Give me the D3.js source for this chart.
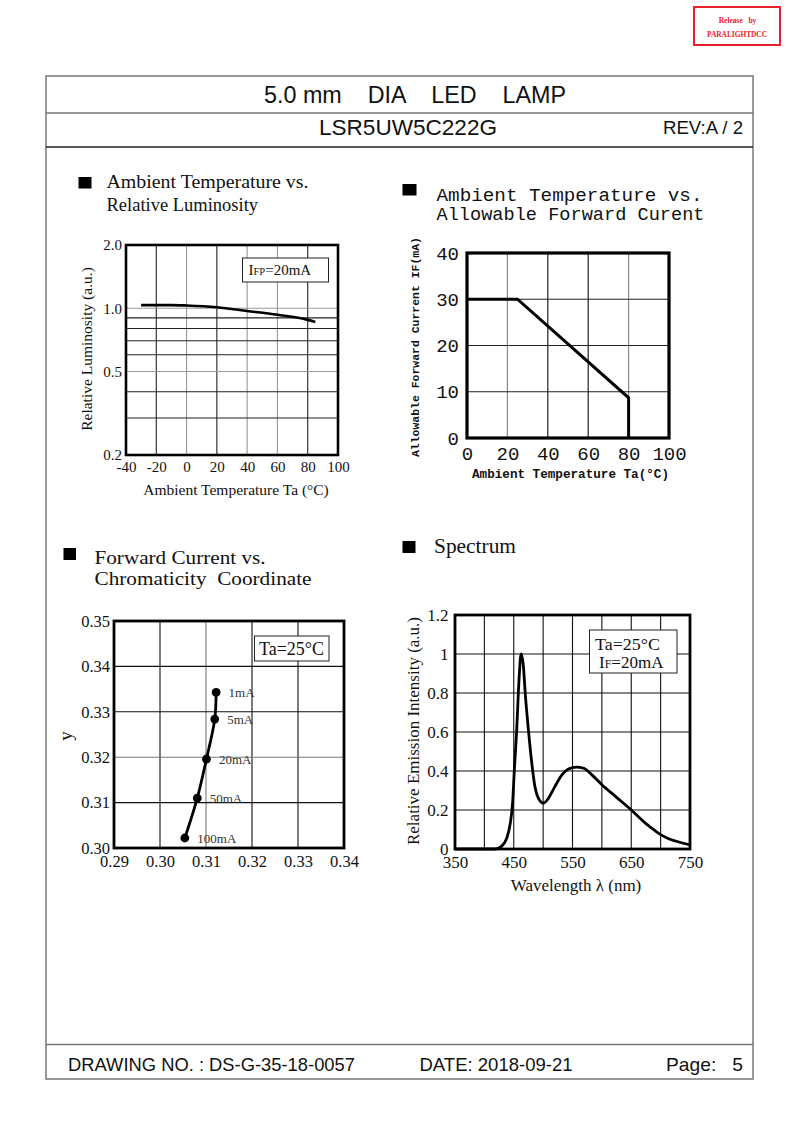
<!DOCTYPE html>
<html><head><meta charset="utf-8">
<script src="https://cdn.jsdelivr.net/npm/d3@7"></script>
<style>body{margin:0;background:#fff} svg{display:block}</style>
</head><body>
<svg id="page" width="793" height="1123"></svg>
<script>
// ---------- data ----------
const lumTemp = [-30, -10, 0, 20, 40, 60, 80, 85];
const lumValue = [1.035, 1.035, 1.03, 1.01, 0.97, 0.93, 0.88, 0.86];
const lumXTicks = [-40, -20, 0, 20, 40, 60, 80, 100];
const lumYTicks = [0.2, 0.5, 1.0, 2.0];
const lumYGrid = [0.3, 0.4, 0.5, 0.6, 0.7, 0.8, 0.9, 1.0];

const derateTemp = [0, 25, 80, 80];
const derateCurrent = [30, 30, 8.7, 0];
const derateXTicks = [0, 20, 40, 60, 80, 100];
const derateYTicks = [0, 10, 20, 30, 40];

const chromaLabels = ["1mA", "5mA", "20mA", "50mA", "100mA"];
const chromaX = [0.3122, 0.3119, 0.3101, 0.3081, 0.3054];
const chromaY = [0.3343, 0.3284, 0.3196, 0.3110, 0.3022];
const chromaXTicks = [0.29, 0.30, 0.31, 0.32, 0.33, 0.34];
const chromaYTicks = [0.30, 0.31, 0.32, 0.33, 0.34, 0.35];

const specWavelength = [350, 418, 429.5, 438, 444, 448, 451, 455, 459, 462.5, 466, 470, 475, 480.7, 486, 492, 500.6, 509, 520, 532, 543, 557, 569, 583, 600, 625, 650, 675, 690, 700, 710, 725, 750];
const specIntensity = [0, 0, 0.015, 0.055, 0.13, 0.235, 0.405, 0.61, 0.87, 1.0, 0.95, 0.78, 0.61, 0.44, 0.32, 0.26, 0.235, 0.26, 0.32, 0.38, 0.41, 0.42, 0.414, 0.38, 0.33, 0.265, 0.2, 0.13, 0.095, 0.074, 0.058, 0.041, 0.021];
const specXTicks = [350, 450, 550, 650, 750];
const specXGrid = [400, 450, 500, 550, 600, 650, 700];
const specYTicks = [0, 0.2, 0.4, 0.6, 0.8, 1, 1.2];

// ---------- page ----------
const svg = d3.select('#page');
const SERIF = "'Liberation Serif','Times New Roman',serif";
const SANS = "'Liberation Sans',Arial,sans-serif";
const MONO = "'Liberation Mono','Courier New',monospace";

// stamp
svg.append('rect').attr('x', 694).attr('y', 7).attr('width', 86).attr('height', 38)
  .attr('fill', '#fff').attr('stroke', '#e8222a').attr('stroke-width', 2);
svg.append('text').attr('x', 737.5).attr('y', 23).attr('text-anchor', 'middle')
  .attr('font-family', SERIF).attr('font-weight', 'bold').attr('font-size', 7.5).attr('fill', '#e8222a')
  .style('white-space', 'pre').text('Release   by');
svg.append('text').attr('x', 737).attr('y', 37).attr('text-anchor', 'middle')
  .attr('font-family', SERIF).attr('font-weight', 'bold').attr('font-size', 7.5).attr('fill', '#e8222a')
  .attr('textLength', 60).attr('lengthAdjust', 'spacingAndGlyphs').text('PARALIGHTDCC');

// frame
const frameColor = '#777';
svg.append('rect').attr('x', 46).attr('y', 76).attr('width', 707).attr('height', 1003)
  .attr('fill', 'none').attr('stroke', frameColor).attr('stroke-width', 1.5);
[113, 147, 1044.5].forEach(yy => svg.append('line').attr('x1', 46).attr('x2', 753)
  .attr('y1', yy).attr('y2', yy).attr('stroke', yy === 147 ? '#222' : frameColor).attr('stroke-width', 1.3));

function headText(str, x, y, size, len, anchor) {
  svg.append('text').attr('x', x).attr('y', y).attr('font-family', SANS).attr('font-size', size)
    .attr('fill', '#111').style('white-space', 'pre').attr('text-anchor', anchor || 'start')
    .attr('textLength', len).attr('lengthAdjust', 'spacingAndGlyphs').text(str);
}
headText('5.0 mm    DIA    LED    LAMP', 264, 103, 24, 302);
headText('LSR5UW5C222G', 319, 135, 22, 178);
headText('REV:A / 2', 663, 133.5, 18, 80);
headText('DRAWING NO. : DS-G-35-18-0057', 68, 1071, 19, 287);
headText('DATE: 2018-09-21', 419.5, 1071, 19, 153);
headText('Page:   5', 666, 1071, 19, 77);

function titleBlock(sqX, sqY, sqW, sqH, lines, tx, baselines, size, family, extra) {
  svg.append('rect').attr('x', sqX).attr('y', sqY).attr('width', sqW).attr('height', sqH).attr('fill', '#000');
  lines.forEach((t, i) => {
    const el = svg.append('text').attr('x', tx).attr('y', baselines[i]).attr('font-family', family)
      .attr('font-size', size).attr('fill', '#111').style('white-space', 'pre').text(t);
    if (extra && extra[i]) el.attr('textLength', extra[i]).attr('lengthAdjust', 'spacingAndGlyphs');
  });
}

function styleAxis(g, family, size, weight) {
  g.select('.domain').remove();
  g.selectAll('text').attr('font-family', family).attr('font-size', size).attr('fill', '#111')
    .attr('font-weight', weight || 'normal');
}

function grid(g, x, y, xs, ys, colorFn, width) {
  g.selectAll(null).data(xs).enter().append('line')
    .attr('x1', d => x(d)).attr('x2', d => x(d)).attr('y1', y.range()[0]).attr('y2', y.range()[1])
    .attr('stroke', d => colorFn('x', d)).attr('stroke-width', width || 1);
  g.selectAll(null).data(ys).enter().append('line')
    .attr('y1', d => y(d)).attr('y2', d => y(d)).attr('x1', x.range()[0]).attr('x2', x.range()[1])
    .attr('stroke', d => colorFn('y', d)).attr('stroke-width', width || 1);
}

function border(g, x, y, w) {
  g.append('rect').attr('x', x.range()[0]).attr('y', y.range()[1])
    .attr('width', x.range()[1] - x.range()[0]).attr('height', y.range()[0] - y.range()[1])
    .attr('fill', 'none').attr('stroke', '#000').attr('stroke-width', w);
}

// ---------- Chart 1: Ambient Temperature vs Relative Luminosity ----------
titleBlock(78.5, 177, 13, 11.5, ['Ambient Temperature vs.', 'Relative Luminosity'], 106.5, [187.5, 210.5], 18.5, SERIF, [202, null]);
{
  const g = svg.append('g');
  const x = d3.scaleLinear().domain([-40, 100]).range([126, 338]);
  const y = d3.scaleLog().domain([0.2, 2]).range([455, 245]);
  const grayX = [0, 40, 60], grayY = [1.0, 0.5];
  grid(g, x, y, lumXTicks.slice(1, -1), lumYGrid,
    (axis, d) => (axis === 'x' ? grayX : grayY).includes(d) ? '#999' : '#222', 1.1);
  g.append('path').datum(lumTemp.map((t, i) => [t, lumValue[i]]))
    .attr('d', d3.line().x(d => x(d[0])).y(d => y(d[1])).curve(d3.curveMonotoneX))
    .attr('fill', 'none').attr('stroke', '#000').attr('stroke-width', 2.6);
  border(g, x, y, 2.6);
  const ay = g.append('g').attr('transform', 'translate(126,0)')
    .call(d3.axisLeft(y).tickValues(lumYTicks).tickFormat(d3.format('.1f')).tickSize(0).tickPadding(4));
  styleAxis(ay, SERIF, 15);
  const ax = g.append('g').attr('transform', 'translate(0,455)')
    .call(d3.axisBottom(x).tickValues(lumXTicks).tickFormat(d => String(d)).tickSize(0).tickPadding(6));
  styleAxis(ax, SERIF, 15);
  g.append('text').attr('x', 236).attr('y', 494.5).attr('text-anchor', 'middle').attr('font-family', SERIF)
    .attr('font-size', 15.5).attr('fill', '#111').text('Ambient Temperature Ta (°C)');
  g.append('text').attr('transform', 'translate(92,349) rotate(-90)').attr('text-anchor', 'middle')
    .attr('font-family', SERIF).attr('font-size', 15.5).attr('fill', '#111').text('Relative Luminosity (a.u.)');
  g.append('rect').attr('x', 242.5).attr('y', 258).attr('width', 86).attr('height', 24)
    .attr('fill', '#fff').attr('stroke', '#222').attr('stroke-width', 1);
  const lt = g.append('text').attr('x', 248.5).attr('y', 274.5).attr('font-family', SERIF).attr('font-size', 15).attr('fill', '#111');
  lt.append('tspan').text('I');
  lt.append('tspan').attr('font-size', 10.5).text('FP');
  lt.append('tspan').text('=20mA');
}

// ---------- Chart 2: Ambient Temperature vs Allowable Forward Current ----------
titleBlock(402.5, 184, 14, 11.5, ['Ambient Temperature vs.', 'Allowable Forward Curent'], 436.5, [200.5, 220], 18.5, MONO, [266, 268]);
{
  const g = svg.append('g');
  const x = d3.scaleLinear().domain([0, 100]).range([467, 669]);
  const y = d3.scaleLinear().domain([0, 40]).range([438, 253]);
  grid(g, x, y, [20, 40, 60, 80], [10, 20, 30],
    (axis, d) => (axis === 'x' && (d === 20 || d === 80)) ? '#888' : '#222', 1.2);
  g.append('path').datum(derateTemp.map((t, i) => [t, derateCurrent[i]]))
    .attr('d', d3.line().x(d => x(d[0])).y(d => y(d[1])))
    .attr('fill', 'none').attr('stroke', '#000').attr('stroke-width', 3).attr('stroke-linejoin', 'miter');
  border(g, x, y, 3.2);
  const ay = g.append('g').attr('transform', 'translate(467,0)')
    .call(d3.axisLeft(y).tickValues(derateYTicks).tickSize(0).tickPadding(8));
  styleAxis(ay, MONO, 19);
  const ax = g.append('g').attr('transform', 'translate(0,438)')
    .call(d3.axisBottom(x).tickValues(derateXTicks).tickSize(0).tickPadding(8.5));
  styleAxis(ax, MONO, 19);
  g.append('text').attr('x', 570.5).attr('y', 478).attr('text-anchor', 'middle').attr('font-family', MONO)
    .attr('font-weight', 'bold').attr('font-size', 12.6).attr('fill', '#111')
    .attr('textLength', 197).attr('lengthAdjust', 'spacingAndGlyphs').text('Ambient Temperature Ta(°C)');
  g.append('text').attr('transform', 'translate(419,347) rotate(-90)').attr('text-anchor', 'middle')
    .attr('font-family', MONO).attr('font-weight', 'bold').attr('font-size', 11.5).attr('fill', '#111')
    .attr('textLength', 220).attr('lengthAdjust', 'spacingAndGlyphs').text('Allowable Forward Current IF(mA)');
}

// ---------- Chart 3: Forward Current vs Chromaticity Coordinate ----------
titleBlock(63.5, 548, 12.5, 12, ['Forward Current vs.', 'Chromaticity  Coordinate'], 94.5, [563.5, 584.5], 19, SERIF, [171, 217]);
{
  const g = svg.append('g');
  const x = d3.scaleLinear().domain([0.29, 0.34]).range([114, 344]);
  const y = d3.scaleLinear().domain([0.30, 0.35]).range([848, 621]);
  grid(g, x, y, chromaXTicks.slice(1, -1), chromaYTicks.slice(1, -1),
    (axis, d) => ((axis === 'x' && Math.abs(d - 0.31) < 1e-9) || (axis === 'y' && Math.abs(d - 0.32) < 1e-9)) ? '#777' : '#111', 1.1);
  const pts = chromaX.map((v, i) => [v, chromaY[i]]);
  g.append('path').datum(pts)
    .attr('d', d3.line().x(d => x(d[0])).y(d => y(d[1])).curve(d3.curveCatmullRom))
    .attr('fill', 'none').attr('stroke', '#000').attr('stroke-width', 2.8);
  g.selectAll(null).data(pts).enter().append('circle')
    .attr('cx', d => x(d[0])).attr('cy', d => y(d[1])).attr('r', 4.4).attr('fill', '#000');
  g.selectAll(null).data(pts).enter().append('text')
    .attr('x', d => x(d[0]) + 12.5).attr('y', d => y(d[1])).attr('dy', '0.35em')
    .attr('font-family', SERIF).attr('font-size', 13).attr('fill', '#333')
    .text((d, i) => chromaLabels[i]);
  border(g, x, y, 2.8);
  const ay = g.append('g').attr('transform', 'translate(114,0)')
    .call(d3.axisLeft(y).tickValues(chromaYTicks).tickFormat(d3.format('.2f')).tickSize(0).tickPadding(4));
  styleAxis(ay, SERIF, 16.5);
  const ax = g.append('g').attr('transform', 'translate(0,848)')
    .call(d3.axisBottom(x).tickValues(chromaXTicks).tickFormat(d3.format('.2f')).tickSize(0).tickPadding(7.5));
  styleAxis(ax, SERIF, 16.5);
  g.append('text').attr('transform', 'translate(71.5,736) rotate(-90)').attr('text-anchor', 'middle')
    .attr('font-family', SERIF).attr('font-size', 19).attr('fill', '#111').text('y');
  g.append('rect').attr('x', 254.5).attr('y', 636).attr('width', 74.5).attr('height', 25)
    .attr('fill', '#fff').attr('stroke', '#222').attr('stroke-width', 1);
  g.append('text').attr('x', 291.5).attr('y', 654.5).attr('text-anchor', 'middle').attr('font-family', SERIF)
    .attr('font-size', 18).attr('fill', '#111').text('Ta=25°C');
}

// ---------- Chart 4: Spectrum ----------
titleBlock(402.5, 541, 13, 12, ['Spectrum'], 434, [553], 20, SERIF, [82]);
{
  const g = svg.append('g');
  const x = d3.scaleLinear().domain([350, 750]).range([455, 690]);
  const y = d3.scaleLinear().domain([0, 1.2]).range([849, 615]);
  grid(g, x, y, specXGrid, specYTicks.slice(1, -1), () => '#111', 1.1);
  g.append('rect').attr('x', 589.5).attr('y', 630).attr('width', 87.5).attr('height', 43)
    .attr('fill', '#fff').attr('stroke', '#222').attr('stroke-width', 1);
  g.append('text').attr('x', 595).attr('y', 650).attr('font-family', SERIF)
    .attr('font-size', 17).attr('fill', '#111').attr('textLength', 65).attr('lengthAdjust', 'spacingAndGlyphs').text('Ta=25°C');
  const lt = g.append('text').attr('x', 599).attr('y', 667.5).attr('font-family', SERIF)
    .attr('font-size', 17).attr('fill', '#111');
  lt.append('tspan').text('I');
  lt.append('tspan').attr('font-size', 12).text('F');
  lt.append('tspan').text('=20mA');
  g.append('path').datum(specWavelength.map((w, i) => [w, specIntensity[i]]))
    .attr('d', d3.line().x(d => x(d[0])).y(d => y(d[1])).curve(d3.curveMonotoneX))
    .attr('fill', 'none').attr('stroke', '#000').attr('stroke-width', 2.8);
  border(g, x, y, 2.8);
  const ay = g.append('g').attr('transform', 'translate(455,0)')
    .call(d3.axisLeft(y).tickValues(specYTicks).tickFormat(d3.format('~g')).tickSize(0).tickPadding(6.5));
  styleAxis(ay, SERIF, 17);
  const ax = g.append('g').attr('transform', 'translate(0,849)')
    .call(d3.axisBottom(x).tickValues(specXTicks).tickSize(0).tickPadding(7));
  styleAxis(ax, SERIF, 17);
  g.append('text').attr('x', 576).attr('y', 890.5).attr('text-anchor', 'middle').attr('font-family', SERIF)
    .attr('font-size', 17).attr('fill', '#111').text('Wavelength λ (nm)');
  g.append('text').attr('transform', 'translate(419,731) rotate(-90)').attr('text-anchor', 'middle')
    .attr('font-family', SERIF).attr('font-size', 17).attr('fill', '#111').text('Relative Emission Intensity (a.u.)');
}
</script>
</body></html>
